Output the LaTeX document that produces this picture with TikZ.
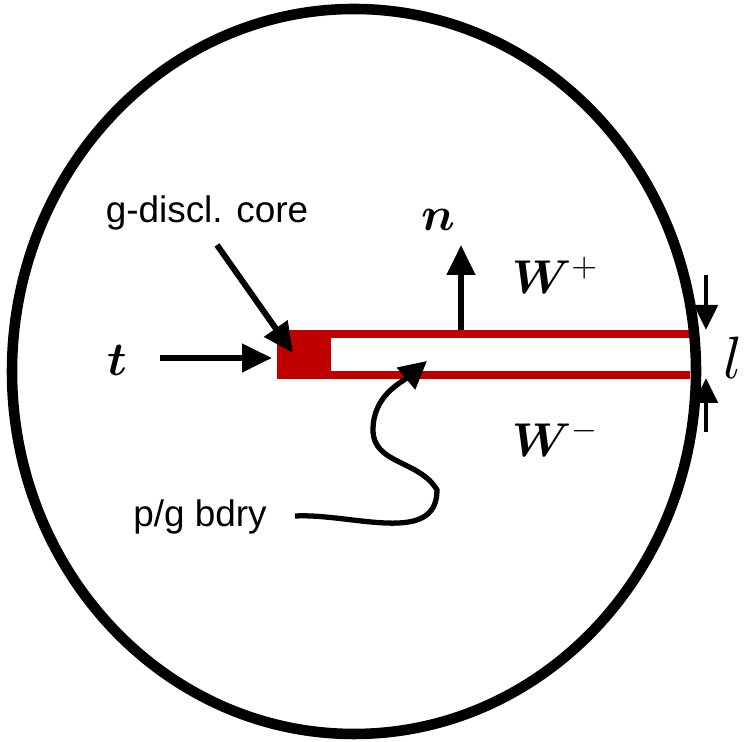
\documentclass[tikz,border=0pt]{standalone}
\usepackage{bm}
\usepackage[no-math]{fontspec}
\setmainfont{Liberation Sans}
\DeclareFontShape{OML}{cmm}{m}{it}{<->cmmi10}{}
\DeclareFontShape{OML}{cmm}{b}{it}{<->cmmib10}{}
\DeclareFontShape{OMS}{cmsy}{m}{n}{<->cmsy10}{}
\DeclareFontShape{OT1}{cmr}{m}{n}{<->cmr10}{}
\usetikzlibrary{arrows.meta, positioning}
\definecolor{stripred}{HTML}{C00000}

\begin{document}
\begin{tikzpicture}[
    x=0.02cm, y=0.02cm,
    lbl/.style={inner sep=0pt, font=\fontsize{21}{24}\selectfont},
    sym/.style={inner sep=0pt, font=\fontsize{27}{30}\selectfont},
    arrow/.style={-{Triangle[length=6mm, width=5.5mm]}, line width=3.4pt},
    thinarrow/.style={-{Triangle[length=5mm, width=4.6mm]}, line width=2.8pt}
]
    \useasboundingbox (0,0) rectangle (744,742);

    % strip with the core
    \fill[stripred] (277,363) rectangle (690,412);
    \fill[white] (331,371) rectangle (690,404);
    \coordinate (core) at (293,389);
    \coordinate (bdry) at (427,381);
    \coordinate (top) at (461,412);

    % outer boundary
    \draw[line width=6pt] (354,370.5) ellipse [x radius=342, y radius=362.5];

    % labels
    \node[lbl] (corelbl) at (207,529) {g-discl. core};
    \node[lbl] (bdrylbl) at (200,225) {p/g bdry};
    \node[sym] (t) at (117,382) {$\bm{t}$};
    \node[sym] (n) at (438,522) {$\bm{n}$};
    \node[sym] (wplus) at (555,467) {$\bm{W}^{+}$};
    \node[sym] (wminus) at (555,304) {$\bm{W}^{-}$};
    \node[inner sep=0pt, font=\fontsize{34}{36}\selectfont] (l) at (733,384) {$l$};

    \coordinate (tstart) at (160,384);
    \coordinate (tend) at (272,384);
    \coordinate (ntip) at (461,497);
    \coordinate (corestart) at (217,497);
    \coordinate (bdrystart) at (295,226);
    \coordinate (ldown) at (706,467);
    \coordinate (ldownend) at (706,412);
    \coordinate (lup) at (706,310);
    \coordinate (lupend) at (706,364);

    % arrows
    \draw[arrow] (tstart) -- (tend);
    \draw[arrow] (top) -- (ntip);
    \draw[arrow] (corestart) -- (core);
    \draw[thinarrow] (ldown) -- (ldownend);
    \draw[thinarrow] (lup) -- (lupend);
    \draw[-{Triangle[length=5.5mm, width=5.5mm]}, line width=3pt]
        (bdrystart) to[out=3, in=-90] (437,252) to[out=120, in=-90] (373,312)
        to[out=90, in=-140] (bdry);
\end{tikzpicture}
\end{document}
